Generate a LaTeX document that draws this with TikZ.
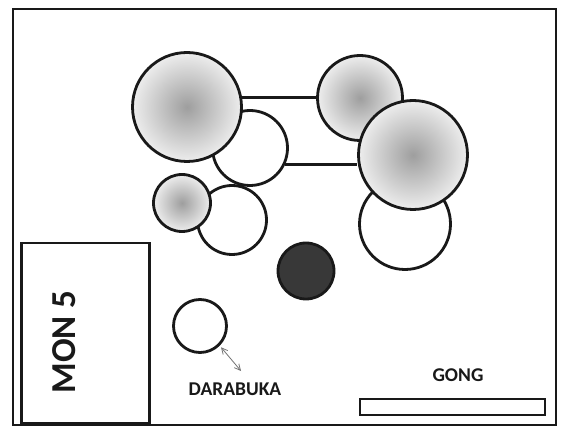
\documentclass[tikz,border=0pt]{standalone}
\usepackage{fontspec}
\setmainfont{Carlito}
\usetikzlibrary{arrows.meta}
\pgfdeclareradialshading{drumshade}{\pgfpoint{0bp}{0bp}}{color(0bp)=(black!38); color(8bp)=(black!28); color(25bp)=(black!7); color(50bp)=(black!7)}
\begin{document}
\begin{tikzpicture}[x=1pt,y=-1pt,
  drum/.style={circle, draw=black!90, line width=2.8pt, inner sep=0pt, fill=white},
  gdrum/.style={drum, shade, shading=drumshade},
  lbl/.style={font=\bfseries\fontsize{19.5}{20}\selectfont, text=black!90, inner sep=0pt},
  box/.style={draw=black!90, line width=2.5pt, inner sep=0pt},
  link/.style={draw=black!90, line width=2.6pt},
]
\useasboundingbox[fill=white] (0,0) rectangle (565,430);
\draw[box] (13,9) rectangle (556,425);
% white drums
\node[drum, minimum size=75] (W1) at (250,148) {};
\node[drum, minimum size=69] (W2) at (232,220) {};
\node[drum, minimum size=91] (W3) at (405,224) {};
% shaded drums
\node[gdrum, minimum size=109] (A) at (187,107) {};
\node[gdrum, minimum size=57] (S) at (182,203) {};
\node[gdrum, minimum size=85] (B) at (360,98) {};
\node[gdrum, minimum size=109] (R) at (413,155) {};
% links
\draw[link] (A.10.6) -- (A.10.6 -| B.west);
\draw[link] (W1.-25) -- (W1.-25 -| R.west);
% dark drum
\node[drum, fill=black!78, minimum size=56] (K) at (306,271) {};
% darabuka
\node[drum, minimum size=53] (D) at (200,326) {};
\coordinate (darr) at (241,371);
\draw[black!55, line width=0.8pt, {Straight Barb[length=6pt,width=6pt]}-{Straight Barb[length=6pt,width=6pt]}, shorten <=2pt] (D.-45) -- (darr);
\node[lbl] (dlbl) at (235,389) {DARABUKA};
% monitor
\node[box, minimum width=128, minimum height=180] (mon) at (85.5,333) {};
\node[lbl, font=\bfseries\fontsize{35}{36}\selectfont, rotate=90] (monlbl) at (64,342) {MON 5};
% gong
\node[lbl] (glbl) at (458,375) {GONG};
\node[box, minimum width=185, minimum height=16] (gong) at (452.5,407) {};
\end{tikzpicture}
\end{document}
